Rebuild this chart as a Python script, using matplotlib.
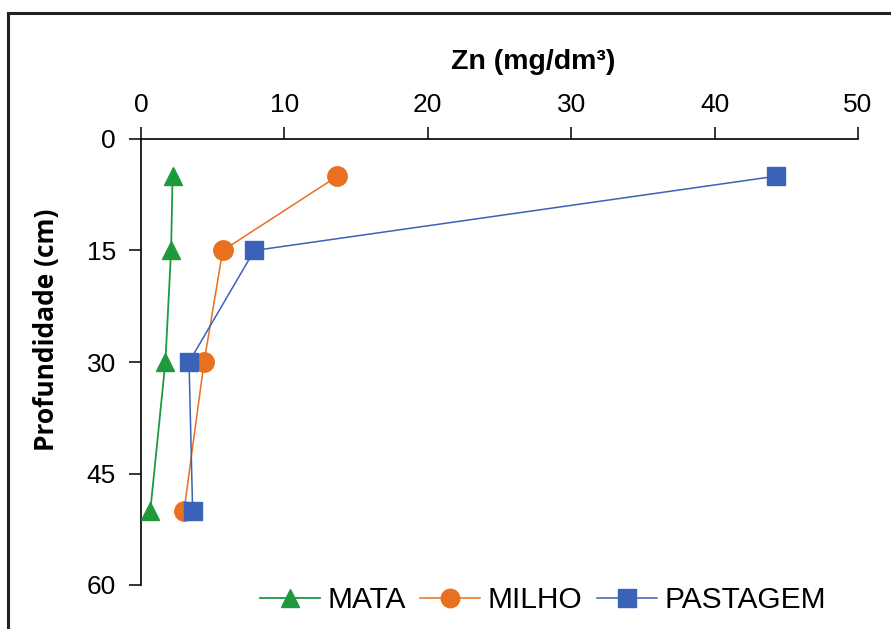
import matplotlib.pyplot as plt
from matplotlib.lines import Line2D

plt.rcParams['font.family'] = ['Liberation Sans', 'DejaVu Sans']

# depth (cm) and Zn (mg/dm3)
depth = [5, 15, 30, 50]
mata = [2.2, 2.1, 1.7, 0.65]
milho = [13.7, 5.7, 4.4, 3.0]
pastagem = [44.3, 7.9, 3.35, 3.6]

W, H = 891, 629
fig = plt.figure(figsize=(W / 100, H / 100), dpi=100)

# axes box in pixels: x 141..858, y 139..585
ax = fig.add_axes([141 / W, 1 - 585 / H, (858 - 141) / W, (585 - 139) / H])

ax.plot(mata, depth, color='#1e9a3c', lw=1.3, marker='^', ms=13, label='MATA', zorder=3)
ax.plot(milho, depth, color='#e8701f', lw=1.1, marker='o', ms=14, label='MILHO', zorder=3)
ax.plot(pastagem, depth, color='#3a62b8', lw=1.1, marker='s', ms=13, label='PASTAGEM', zorder=4)

ax.set_xlim(0, 50)
ax.set_ylim(60, 0)
ax.set_xticks(range(0, 51, 10))
ax.set_yticks(range(0, 61, 15))
ax.xaxis.tick_top()
ax.spines['right'].set_visible(False)
ax.spines['bottom'].set_visible(False)
ax.spines['top'].set_linewidth(1.2)
ax.spines['left'].set_linewidth(1.2)
ax.tick_params(axis='x', top=True, bottom=False, labeltop=True, labelbottom=False,
               direction='out', length=9, width=1.1, labelsize=19, pad=7)
ax.tick_params(axis='y', direction='out', length=9, width=1.1, labelsize=19, pad=9)

fig.text(533 / W, 1 - 62 / H, 'Zn (mg/dm³)', ha='center', va='center',
         fontsize=20.5, fontweight='bold')
fig.text(47 / W, 1 - 330 / H, 'Profundidade (cm)', ha='center', va='center',
         rotation=90, fontsize=19, fontweight='bold', family=['Open Sans', 'DejaVu Sans'])

fig.legend(loc='center', bbox_to_anchor=(543 / W, 1 - 600 / H), ncol=3, frameon=False,
           fontsize=21.5, handlelength=2.0, handletextpad=0.25, columnspacing=0.5,
           markerscale=0.95, borderpad=0)

# outer frame (left and top edges only visible)
fig.add_artist(Line2D([8 / W, 8 / W], [0, 1 - 13 / H], color='#222222', lw=2.2))
fig.add_artist(Line2D([8 / W, 1], [1 - 13 / H, 1 - 13 / H], color='#222222', lw=2.2))

plt.savefig('out.png', dpi=100)
